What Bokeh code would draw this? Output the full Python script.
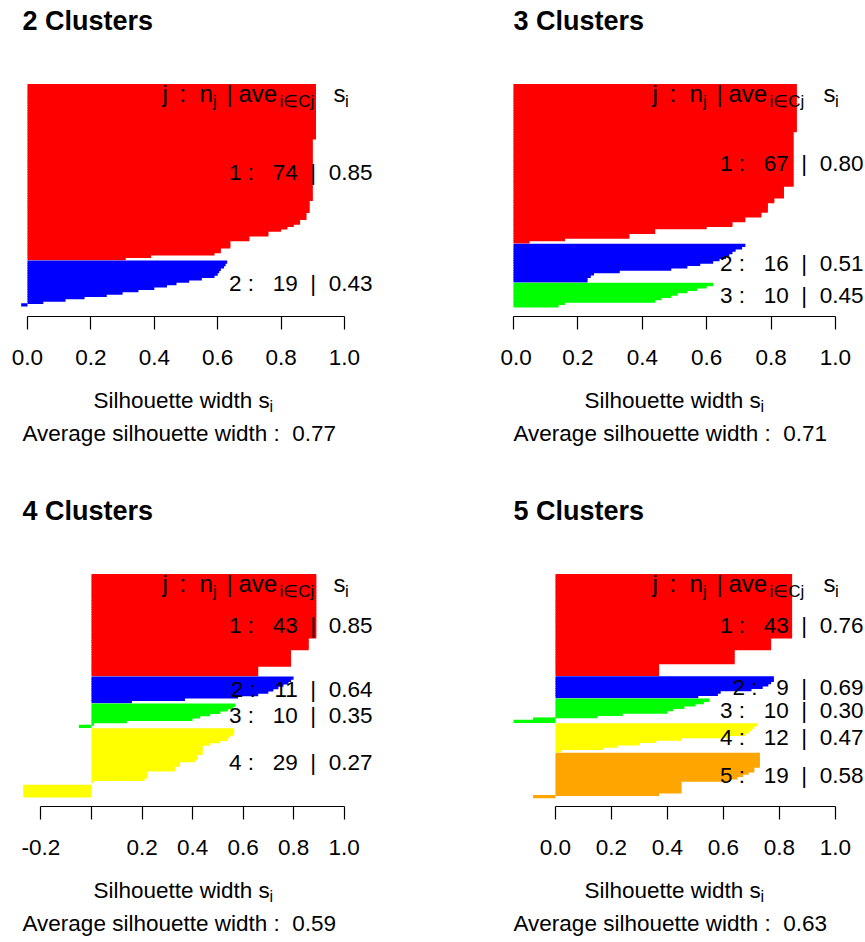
from bokeh.plotting import figure
from bokeh.models import (Range1d, LinearAxis, FixedTicker, NumeralTickFormatter,
                          Label, ColumnDataSource)
from bokeh.layouts import column, row
from bokeh.embed import file_html
from bokeh.resources import INLINE

FONT = "Liberation Sans"
NB = "\u00a0"

# ---------------- data (silhouette widths, sorted within each cluster) ----------------
titles = ["2 Clusters", "3 Clusters", "4 Clusters", "5 Clusters"]
cluster_colors = ["#FF0000", "#0000FF", "#00FF00", "#FFFF00", "#FFA500"]

# 2 clusters
k2_c1 = [0.91, 0.91, 0.91, 0.91, 0.91, 0.91, 0.91, 0.91, 0.91, 0.91,
         0.91, 0.91, 0.91, 0.91, 0.91, 0.91, 0.91, 0.91, 0.91, 0.91,
         0.91, 0.91, 0.91, 0.90, 0.90, 0.90, 0.90, 0.90, 0.90, 0.90,
         0.90, 0.90, 0.90, 0.90, 0.90, 0.90, 0.90, 0.90, 0.90, 0.90,
         0.90, 0.90, 0.90, 0.90, 0.90, 0.90, 0.90, 0.90, 0.90, 0.89,
         0.89, 0.89, 0.89, 0.89, 0.88, 0.88, 0.88, 0.86, 0.86, 0.84,
         0.82, 0.80, 0.76, 0.76, 0.70, 0.70, 0.64, 0.64, 0.64, 0.61,
         0.61, 0.59, 0.39, 0.31]
k2_c2 = [0.63, 0.625, 0.62, 0.61, 0.605, 0.60, 0.59, 0.55, 0.51, 0.47,
         0.44, 0.40, 0.35, 0.30, 0.25, 0.18, 0.12, 0.05, -0.02]
k2_means = ["0.85", "0.43"]
k2_avg = "0.77"

# 3 clusters
k3_c1 = [0.88, 0.88, 0.88, 0.88, 0.88, 0.88, 0.88, 0.88, 0.88, 0.88,
         0.88, 0.88, 0.88, 0.88, 0.88, 0.88, 0.88, 0.88, 0.88, 0.88,
         0.87, 0.87, 0.87, 0.87, 0.87, 0.87, 0.87, 0.87, 0.87, 0.87,
         0.87, 0.87, 0.87, 0.87, 0.87, 0.87, 0.87, 0.87, 0.87, 0.87,
         0.87, 0.87, 0.87, 0.84, 0.84, 0.84, 0.84, 0.84, 0.81, 0.81,
         0.79, 0.79, 0.79, 0.79, 0.77, 0.77, 0.72, 0.72, 0.68, 0.68,
         0.60, 0.44, 0.44, 0.36, 0.36, 0.16, 0.05]
k3_c2 = [0.72, 0.71, 0.69, 0.68, 0.67, 0.66, 0.64, 0.62, 0.58, 0.54,
         0.49, 0.33, 0.25, 0.24, 0.23, 0.23]
k3_c3 = [0.62, 0.60, 0.57, 0.54, 0.51, 0.49, 0.46, 0.44, 0.16, 0.14]
k3_means = ["0.80", "0.51", "0.45"]
k3_avg = "0.71"

# 4 clusters
k4_c1 = [0.89, 0.89, 0.89, 0.89, 0.89, 0.89, 0.89, 0.89, 0.89, 0.89,
         0.89, 0.89, 0.89, 0.89, 0.89, 0.89, 0.89, 0.89, 0.89, 0.89,
         0.89, 0.89, 0.89, 0.89, 0.89, 0.89, 0.89, 0.86, 0.86, 0.86,
         0.86, 0.86, 0.79, 0.79, 0.79, 0.79, 0.79, 0.79, 0.79, 0.66,
         0.66, 0.66, 0.66]
k4_c2 = [0.80, 0.79, 0.78, 0.76, 0.74, 0.72, 0.70, 0.66, 0.58, 0.37, 0.16]
k4_c3 = [0.57, 0.56, 0.54, 0.51, 0.47, 0.43, 0.40, 0.14, 0.01, -0.05]
k4_c4 = [0.565, 0.565, 0.56, 0.545, 0.54, 0.51, 0.47, 0.44, 0.44, 0.44,
         0.44, 0.42, 0.42, 0.41, 0.35, 0.35, 0.33, 0.33, 0.22, 0.22,
         0.22, 0.21, 0.01, 0.00, -0.27, -0.27, -0.27, -0.27, -0.27]
k4_means = ["0.85", "0.64", "0.35", "0.27"]
k4_avg = "0.59"

# 5 clusters
k5_c1 = [0.845, 0.845, 0.845, 0.845, 0.845, 0.845, 0.845, 0.845, 0.845, 0.845,
         0.845, 0.845, 0.845, 0.845, 0.845, 0.845, 0.845, 0.845, 0.845, 0.845,
         0.845, 0.845, 0.845, 0.845, 0.845, 0.845, 0.845, 0.77, 0.77, 0.77,
         0.77, 0.77, 0.64, 0.64, 0.64, 0.64, 0.64, 0.64, 0.37, 0.37,
         0.37, 0.37, 0.37]
k5_c2 = [0.78, 0.78, 0.77, 0.76, 0.74, 0.70, 0.59, 0.58, 0.51]
k5_c3 = [0.55, 0.53, 0.50, 0.46, 0.42, 0.40, 0.24, 0.15, -0.08, -0.15]
k5_c4 = [0.72, 0.71, 0.70, 0.69, 0.68, 0.62, 0.45, 0.36, 0.30, 0.22, 0.17, 0.02]
k5_c5 = [0.73, 0.73, 0.73, 0.73, 0.73, 0.73, 0.71, 0.71, 0.69, 0.67,
         0.65, 0.62, 0.45, 0.45, 0.45, 0.45, 0.45, 0.37, -0.08]
k5_means = ["0.76", "0.69", "0.30", "0.47", "0.58"]
k5_avg = "0.63"

ticks_pos = [0.0, 0.2, 0.4, 0.6, 0.8, 1.0]
ticks_neg = [-0.2, 0.0, 0.2, 0.4, 0.6, 0.8, 1.0]

# ---------------- layout (page pixel geometry) ----------------
GAP = 0.5
W1, W2, H1, H2 = 500, 365, 490, 452
geoms = [
    dict(box=(0, 0, W1, H1), x0=27, sx=317, top=84, bot=305.5, axis=316, cdx=0, rdy=0, lab_r=372),
    dict(box=(500, 0, W2, H1), x0=513, sx=322, top=84, bot=306.5, axis=316, cdx=491, rdy=0, lab_r=863),
    dict(box=(0, 490, W1, H2), x0=91, sx=252.6, top=574, bot=796.5, axis=806, cdx=0, rdy=490, lab_r=372),
    dict(box=(500, 490, W2, H2), x0=555, sx=280, top=574, bot=797.3, axis=806, cdx=491, rdy=490, lab_r=863),
]
# header  j : n_j | ave_{i in Cj}  s_i   (text, left px, is_subscript)
header_parts = [("j", 162, False), (":", 179, False), ("n", 199, False), ("j", 212.5, True),
                ("|", 226, False), ("ave", 238, False), ("i\u2208Cj", 279, True),
                ("s", 333, False), ("i", 344.5, True)]


def build(title, clusters, means, overall, ticks, blank_zero, g):
    ox, oy, W, H = g["box"]
    x0, sx, top, bot, axis_y = g["x0"], g["sx"], g["top"], g["bot"], g["axis"]
    cdx, rdy = g["cdx"], g["rdy"]
    sizes = [len(c) for c in clusters]
    total = sum(sizes) + GAP * (len(sizes) - 1)
    sy = (bot - top) / total

    def X(px):
        return (px - x0) / sx

    def Y(py):
        return (py - top) / sy

    p = figure(width=W, height=H, output_backend="svg", toolbar_location=None, title=None,
               x_axis_type=None, y_axis_type=None,
               x_range=Range1d(X(ox), X(ox + W)), y_range=Range1d(Y(oy + H), Y(oy)),
               min_border=0, min_border_left=0, min_border_right=0,
               min_border_top=0, min_border_bottom=0)
    p.outline_line_color = None
    p.background_fill_color = "white"
    p.border_fill_color = "white"

    ys, rs, cs, mids = [], [], [], []
    pos = 0.0
    for vals, col in zip(clusters, cluster_colors):
        start = pos
        for v in vals:
            ys.append(pos + 0.5)
            rs.append(v)
            cs.append(col)
            pos += 1
        mids.append((start + pos) / 2)
        pos += GAP
    src = ColumnDataSource(dict(y=ys, right=rs, color=cs))
    # slight overlap between neighbouring bars avoids anti-aliasing seams
    p.hbar(y="y", left=0, right="right", height=1.4, fill_color="color",
           line_color=None, source=src)

    ax = LinearAxis(ticker=FixedTicker(ticks=ticks, minor_ticks=[]),
                    formatter=NumeralTickFormatter(format="0.0"),
                    bounds=(ticks[0], ticks[-1]), fixed_location=Y(axis_y))
    if blank_zero:
        ax.major_label_overrides = {0: ""}
    ax.axis_line_color = "black"
    ax.axis_line_width = 1.2
    ax.major_tick_line_color = "black"
    ax.major_tick_line_width = 1.2
    ax.major_tick_out = 13
    ax.major_tick_in = 0
    ax.minor_tick_out = 0
    ax.minor_tick_in = 0
    ax.major_label_standoff = 20
    ax.major_label_text_font = FONT
    ax.major_label_text_font_size = "22.5px"
    ax.major_label_text_color = "black"
    p.add_layout(ax, "below")

    def lab(px, py, text, size="22.5px", align="left", style="normal", ydata=None):
        p.add_layout(Label(x=X(px), y=Y(py) if ydata is None else ydata, text=text,
                           text_font=FONT, text_font_size=size, text_align=align,
                           text_baseline="middle", text_font_style=style, text_color="black"))

    # title
    lab(22 + cdx, 20.5 + rdy, title, size="27px", style="bold")
    # column header  j : n_j | ave_{i in Cj}  s_i
    hx_shift = cdx - 1 if cdx else 0
    for txt, hx, sub in header_parts:
        if sub:
            lab(hx + hx_shift, 100.5 + rdy, txt, size="17px")
        else:
            lab(hx + hx_shift, 92.5 + rdy, txt, size="24px")
    # per-cluster labels
    for j, (n, m, ym) in enumerate(zip(sizes, means, mids), start=1):
        txt = f"{j} :   {n}  |  {m}".replace(" ", NB)
        lab(g["lab_r"], 0, txt, align="right", ydata=ym)
    # x label
    lab(93 + cdx, 400 + rdy, "Silhouette width s")
    lab(269 + cdx, 406 + rdy, "i", size="16px")
    # subtitle
    lab(22 + cdx, 433 + rdy, ("Average silhouette width :  " + overall).replace("  ", NB + NB))
    return p


p1 = build(titles[0], [k2_c1, k2_c2], k2_means, k2_avg, ticks_pos, False, geoms[0])
p2 = build(titles[1], [k3_c1, k3_c2, k3_c3], k3_means, k3_avg, ticks_pos, False, geoms[1])
p3 = build(titles[2], [k4_c1, k4_c2, k4_c3, k4_c4], k4_means, k4_avg, ticks_neg, True, geoms[2])
p4 = build(titles[3], [k5_c1, k5_c2, k5_c3, k5_c4, k5_c5], k5_means, k5_avg, ticks_pos, False, geoms[3])

layout = column(row(p1, p2), row(p3, p4))
open("out.html", "w").write(file_html(layout, INLINE, "Silhouette plots"))
